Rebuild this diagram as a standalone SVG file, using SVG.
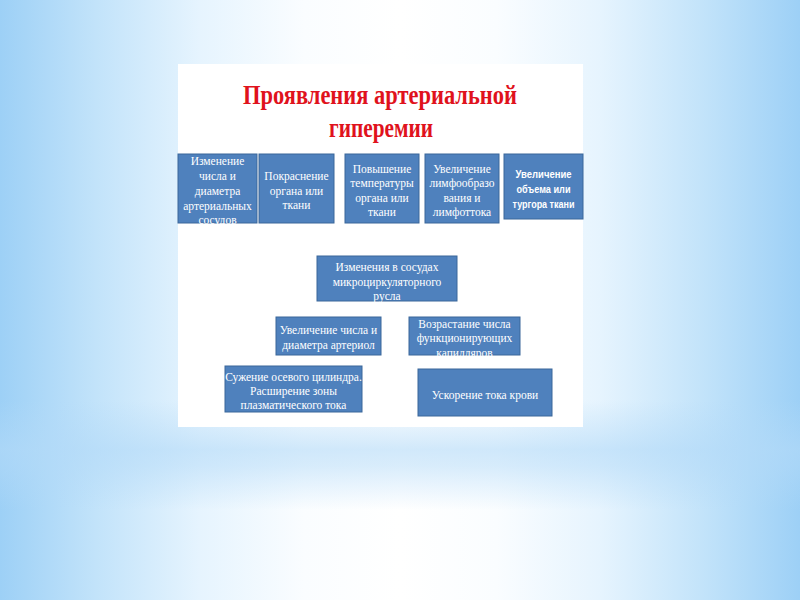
<svg xmlns="http://www.w3.org/2000/svg" width="800" height="600" viewBox="0 0 800 600">
<defs>
<linearGradient id="bgH" x1="0" y1="0" x2="1" y2="0">
<stop offset="0" stop-color="#9dd0f6"/>
<stop offset="0.12" stop-color="#c2e3fa"/>
<stop offset="0.25" stop-color="#e6f4fe"/>
<stop offset="0.38" stop-color="#fafdff"/>
<stop offset="0.5" stop-color="#ffffff"/>
<stop offset="0.62" stop-color="#fafdff"/>
<stop offset="0.75" stop-color="#e6f4fe"/>
<stop offset="0.88" stop-color="#c2e3fa"/>
<stop offset="1" stop-color="#9dd0f6"/>
</linearGradient>
<linearGradient id="band" x1="0" y1="0" x2="0" y2="1">
<stop offset="0" stop-color="#b3daf8" stop-opacity="0"/>
<stop offset="0.45" stop-color="#b3daf8" stop-opacity="0.6"/>
<stop offset="0.6" stop-color="#b3daf8" stop-opacity="0.5"/>
<stop offset="1" stop-color="#b3daf8" stop-opacity="0"/>
</linearGradient>
<radialGradient id="bottomGlow" cx="0.5" cy="1" r="0.5">
<stop offset="0" stop-color="#ffffff" stop-opacity="1"/>
<stop offset="0.55" stop-color="#ffffff" stop-opacity="0.85"/>
<stop offset="1" stop-color="#ffffff" stop-opacity="0"/>
</radialGradient>
<radialGradient id="topGlow" cx="0.5" cy="0" r="0.5">
<stop offset="0" stop-color="#ffffff" stop-opacity="1"/>
<stop offset="0.6" stop-color="#ffffff" stop-opacity="0.6"/>
<stop offset="1" stop-color="#ffffff" stop-opacity="0"/>
</radialGradient>
<style>
.box{fill:#4f81bd;stroke:#3a679a;stroke-width:1}
.t{font-family:"Liberation Serif","Times New Roman",serif;font-size:11.5px;fill:#ffffff;text-anchor:middle}
.s{font-family:"Liberation Sans",Arial,sans-serif;font-size:11px;font-weight:bold;fill:#ffffff;text-anchor:middle}
.title{font-family:"Liberation Serif","Times New Roman",serif;font-size:28px;font-weight:bold;fill:#e0121c;text-anchor:middle}
</style>
</defs>
<rect x="0" y="0" width="800" height="600" fill="url(#bgH)"/>
<ellipse cx="400" cy="0" rx="300" ry="260" fill="url(#topGlow)"/>
<rect x="0" y="400" width="800" height="110" fill="url(#band)"/>
<ellipse cx="400" cy="610" rx="260" ry="170" fill="url(#bottomGlow)"/>
<rect x="178" y="64" width="405" height="363" fill="#ffffff"/>

<g id="title">
<text class="title" x="380" y="104" textLength="274" lengthAdjust="spacingAndGlyphs">Проявления артериальной</text>
<text class="title" x="381" y="137" textLength="104" lengthAdjust="spacingAndGlyphs">гиперемии</text>
</g>

<g id="connectors"></g>

<g id="n1">
<rect class="box" x="178" y="154" width="79" height="69"/>
<text class="t" x="217.5" y="165">Изменение</text>
<text class="t" x="217.5" y="180">числа и</text>
<text class="t" x="217.5" y="195">диаметра</text>
<text class="t" x="217.5" y="210">артериальных</text>
<text class="t" x="217.5" y="224">сосудов</text>
</g>
<g id="n2">
<rect class="box" x="259" y="154" width="75" height="69"/>
<text class="t" x="296.5" y="180">Покраснение</text>
<text class="t" x="296.5" y="195">органа или</text>
<text class="t" x="296.5" y="209">ткани</text>
</g>
<g id="n3">
<rect class="box" x="345" y="154" width="74" height="69"/>
<text class="t" x="382" y="173">Повышение</text>
<text class="t" x="382" y="187">температуры</text>
<text class="t" x="382" y="202">органа или</text>
<text class="t" x="382" y="216">ткани</text>
</g>
<g id="n4">
<rect class="box" x="425" y="154" width="74" height="69"/>
<text class="t" x="462" y="173">Увеличение</text>
<text class="t" x="462" y="187">лимфообразо</text>
<text class="t" x="462" y="202">вания и</text>
<text class="t" x="462" y="216">лимфоттока</text>
</g>
<g id="n5">
<rect class="box" x="504" y="154" width="79" height="65"/>
<text class="s" x="543.5" y="178" textLength="56" lengthAdjust="spacingAndGlyphs">Увеличение</text>
<text class="s" x="543.5" y="193" textLength="54" lengthAdjust="spacingAndGlyphs">объема или</text>
<text class="s" x="543.5" y="208" textLength="62" lengthAdjust="spacingAndGlyphs">тургора ткани</text>
</g>
<g id="n6">
<rect class="box" x="317" y="256" width="140" height="45"/>
<text class="t" x="387" y="271">Изменения в сосудах</text>
<text class="t" x="387" y="286">микроциркуляторного</text>
<text class="t" x="387" y="300">русла</text>
</g>
<g id="n7">
<rect class="box" x="276" y="317" width="105" height="38"/>
<text class="t" x="328.5" y="334">Увеличение числа и</text>
<text class="t" x="328.5" y="349">диаметра артериол</text>
</g>
<g id="n8">
<rect class="box" x="409" y="317" width="111" height="38"/>
<text class="t" x="464.5" y="328">Возрастание числа</text>
<text class="t" x="464.5" y="342">функционирующих</text>
<text class="t" x="464.5" y="357">капилляров</text>
</g>
<g id="n9">
<rect class="box" x="225" y="366" width="137" height="46"/>
<text class="t" x="293.5" y="381">Сужение осевого цилиндра.</text>
<text class="t" x="293.5" y="395">Расширение зоны</text>
<text class="t" x="293.5" y="409">плазматического тока</text>
</g>
<g id="n10">
<rect class="box" x="418" y="369" width="134" height="47"/>
<text class="t" x="485" y="399">Ускорение тока крови</text>
</g>
</svg>
